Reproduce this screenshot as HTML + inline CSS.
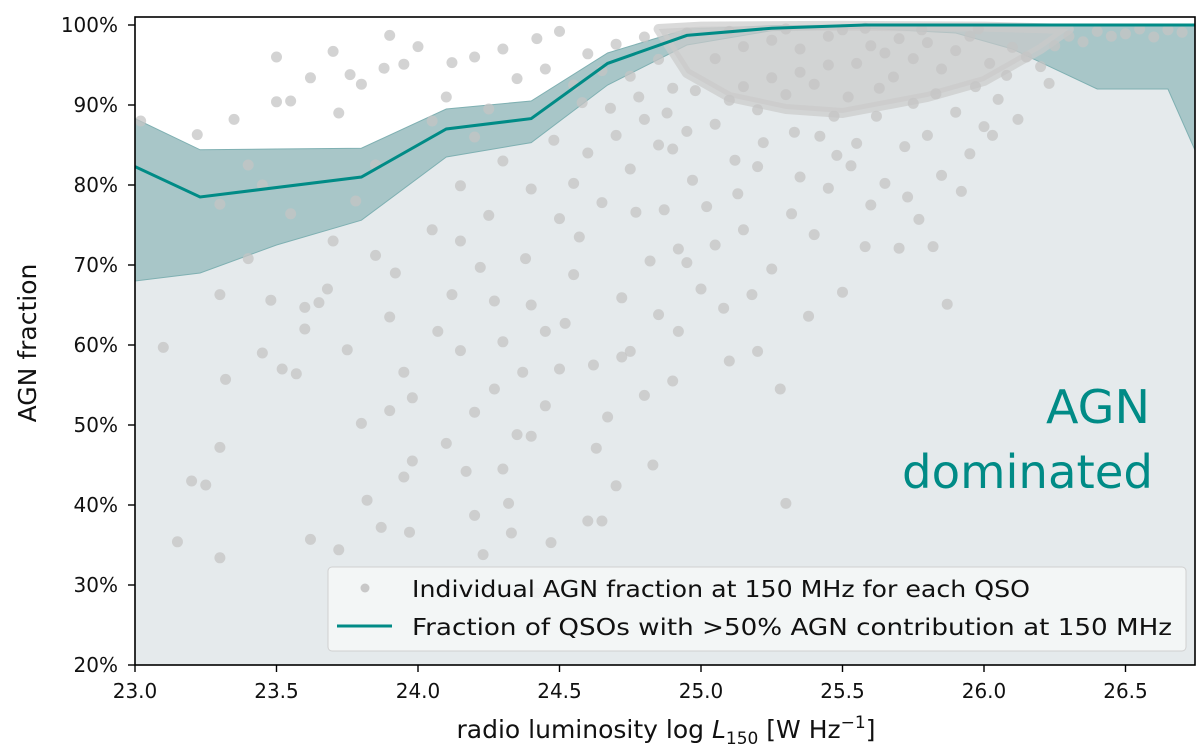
<!DOCTYPE html>
<html><head><meta charset="utf-8">
<style>
body{margin:0;background:#fff;}
svg{display:block;font-family:"DejaVu Sans","Liberation Sans",sans-serif;}
</style></head>
<body>
<svg id="chart" width="1200" height="751" xmlns="http://www.w3.org/2000/svg">
<defs><clipPath id="clip"><rect x="135" y="17" width="1060" height="648"/></clipPath></defs>
<g id="plot" clip-path="url(#clip)"></g>
<rect x="135" y="17" width="1060" height="648" fill="none" stroke="#000" stroke-width="1.6"/>
<g id="axes"></g>
<text x="1150" y="423" font-size="46" fill="#008b86" text-anchor="end" textLength="104" lengthAdjust="spacingAndGlyphs">AGN</text>
<text x="1153" y="488" font-size="46" fill="#008b86" text-anchor="end" textLength="251" lengthAdjust="spacingAndGlyphs">dominated</text>
<g>
<rect x="328" y="567" width="858" height="84" rx="4" fill="#f6f8f8" fill-opacity="0.85" stroke="#d0d0d0"/>
<circle cx="365" cy="588" r="4.5" fill="#c8c8c8"/>
<text x="412" y="597" font-size="23" fill="#111" textLength="618" lengthAdjust="spacingAndGlyphs">Individual AGN fraction at 150 MHz for each QSO</text>
<line x1="337" y1="626" x2="392" y2="626" stroke="#008b86" stroke-width="3"/>
<text x="412" y="635" font-size="23" fill="#111" textLength="760" lengthAdjust="spacingAndGlyphs">Fraction of QSOs with &gt;50% AGN contribution at 150 MHz</text>
</g>
<text x="666" y="738" font-size="25" text-anchor="middle" fill="#111">radio luminosity log <tspan font-style="italic">L</tspan><tspan font-size="17" dy="6">150</tspan><tspan dy="-6"> [W Hz</tspan><tspan font-size="17" dy="-10">−1</tspan><tspan dy="10">]</tspan></text>
<text transform="translate(36,343) rotate(-90)" font-size="25" text-anchor="middle" fill="#111">AGN fraction</text>
</svg>
<script>
const xTicks=[23.0,23.5,24.0,24.5,25.0,25.5,26.0,26.5];
const xTickLabels=["23.0","23.5","24.0","24.5","25.0","25.5","26.0","26.5"];
const yTicks=[20,30,40,50,60,70,80,90,100];
const yTickLabels=["20%","30%","40%","50%","60%","70%","80%","90%","100%"];
const lineX=[23.0,23.23,23.8,24.1,24.4,24.67,24.95,25.25,25.58,26.1,26.5,26.75];
const lineY=[82.3,78.5,81.0,87.0,88.3,95.2,98.7,99.6,100,100,100,100];
const bandX=[23.0,23.23,23.5,23.8,24.1,24.4,24.67,24.95,25.25,25.58,25.9,26.1,26.4,26.65,26.75];
const bandHi=[88.3,84.4,84.5,84.6,89.5,90.5,96.5,99.5,99.9,100,100,100,100,100,100];
const bandLo=[68.0,69.0,72.5,75.6,83.5,85.3,92.5,97.5,99.3,99.6,99.0,97.0,92.0,92.0,84.0];
const denseX=[24.85,25.0,25.5,26.0,26.3,26.2,26.0,25.8,25.5,25.3,25.1,24.95];
const denseY=[99.5,99.8,99.9,99.8,99.5,97,93,91,89,89.5,91,94];
const ptX=[23.02,23.1,23.15,23.2,23.22,23.25,23.3,23.3,23.32,23.3,23.35,23.4,23.45,23.48,23.5,23.52,23.55,23.57,23.6,23.62,23.65,23.68,23.7,23.72,23.72,23.75,23.76,23.78,23.8,23.82,23.85,23.87,23.9,23.92,23.95,23.95,23.97,23.98,23.5,23.62,23.8,23.88,23.9,23.95,24.0,23.85,23.55,23.3,23.45,23.4,23.7,23.9,23.98,23.6,
24.05,24.07,24.1,24.12,24.15,24.15,24.17,24.2,24.22,24.23,24.25,24.27,24.3,24.32,24.33,24.35,24.37,24.4,24.42,24.45,24.47,24.5,24.12,24.2,24.3,24.42,24.1,24.25,24.35,24.45,24.3,24.4,24.05,24.2,24.48,24.38,24.27,24.15,24.45,24.2,24.3,24.4,24.5,
24.52,24.55,24.57,24.6,24.62,24.65,24.67,24.7,24.72,24.75,24.77,24.8,24.82,24.85,24.87,24.9,24.92,24.95,24.97,25.0,24.55,24.6,24.65,24.7,24.75,24.8,24.85,24.9,24.95,24.55,24.6,24.65,24.7,24.75,24.8,24.85,24.9,24.95,24.5,24.58,24.68,24.78,24.88,24.98,24.63,24.83,24.72,24.92,
25.02,25.05,25.08,25.1,25.12,25.15,25.18,25.2,25.22,25.25,25.28,25.3,25.32,25.35,25.38,25.4,25.42,25.45,25.5,25.47,25.05,25.1,25.15,25.2,25.25,25.3,25.35,25.4,25.45,25.05,25.15,25.25,25.35,25.45,25.1,25.3,25.5,25.2,25.33,25.13,25.48,
25.52,25.55,25.58,25.6,25.62,25.65,25.68,25.7,25.72,25.75,25.77,25.8,25.82,25.85,25.87,25.9,25.92,25.95,25.97,26.0,25.55,25.6,25.65,25.7,25.75,25.8,25.85,25.9,25.95,25.58,25.78,25.98,25.63,25.83,25.53,25.73,
26.02,26.05,26.08,26.1,26.12,26.15,26.2,26.25,26.3,26.35,26.4,26.45,26.5,26.55,26.6,26.65,26.7,26.23,26.03];
const ptY=[88,59.7,35.4,43,86.3,42.5,33.4,47.2,55.7,66.3,88.2,82.5,59,65.6,90.4,57,90.5,56.4,64.7,35.7,65.3,67,96.7,34.4,89,59.4,93.8,78,50.2,40.6,71.2,37.2,51.8,69,56.6,43.5,36.6,45.5,96,93.4,92.6,94.6,98.7,95.1,97.3,82.5,76.4,77.6,80,70.8,73,63.5,53.4,62,
74.4,61.7,47.7,66.3,73,79.9,44.2,51.6,69.7,33.8,76.2,54.5,60.4,40.2,36.5,48.8,56.6,65,29,61.7,35.3,75.8,95.3,96,97,98.3,91,89.5,93.3,94.5,83,79.5,88,86,85.6,70.8,65.5,59.3,52.4,38.7,44.5,48.6,57,
62.7,68.8,73.5,38,57.5,38,51,42.4,65.9,59.2,76.6,53.7,70.5,63.8,76.9,55.5,72,70.3,80.6,67,80.2,84,77.8,86.2,82,88.2,85,84.5,86.7,92.5,96.4,94.3,97.6,93.6,98.5,95.7,92.1,99,99.2,90.3,89.6,91,89,91.8,47.1,45,58.5,61.7,
77.3,72.5,64.6,58,83.1,74.4,66.3,59.2,85.3,69.5,54.5,40.2,76.4,81,63.6,73.8,86.1,79.6,66.6,88.6,87.6,90.6,92.3,89.4,93.4,91.3,94.1,92.6,95,95.8,97.3,98.1,97,98.6,99.2,99.5,99.4,82.3,86.6,78.9,83.7,
91,85.2,72.3,77.5,88.6,80.2,93.5,72.1,84.8,90.2,75.7,86.2,72.3,81.2,65.1,89.1,79.2,83.9,92.3,87.3,95.2,97.4,96.5,98.3,95.8,97.8,94.5,96.8,98.6,99.6,99.4,99.5,92.1,91.4,82.4,78.5,
95.2,90.7,93.7,97.2,88.2,96,94.8,97.4,98.6,97.9,99.2,98.6,98.9,99.5,98.5,99.4,99.1,92.7,86.2];

const X0=23.0,PX0=135,PXU=283;
const sx=v=>PX0+(v-X0)*PXU;
const sy=v=>665-(v-20)*8;
const NS='http://www.w3.org/2000/svg';
function mk(tag,attrs,parent){const e=document.createElementNS(NS,tag);for(const k in attrs)e.setAttribute(k,attrs[k]);parent.appendChild(e);return e;}
const plot=document.getElementById('plot'),axes=document.getElementById('axes');

let d='M'+sx(bandX[0])+','+sy(20);
bandX.forEach((x,i)=>d+=' L'+sx(x)+','+sy(bandLo[i]));
d+=' L'+sx(bandX[bandX.length-1])+','+sy(20)+'Z';
const reg=mk('path',{d:d,fill:'#e5eaec'},plot);



let b='';
bandX.forEach((x,i)=>b+=(i?' L':'M')+sx(x)+','+sy(bandHi[i]));
for(let i=bandX.length-1;i>=0;i--)b+=' L'+sx(bandX[i])+','+sy(bandLo[i]);
b+='Z';
const band=mk('path',{d:b,fill:'#a8c6c8',stroke:'#7fb0b2','stroke-width':1},plot);



let dc='';
denseX.forEach((x,i)=>dc+=(i?' L':'M')+sx(x)+','+sy(denseY[i]));
const dense=mk('path',{d:dc+'Z',fill:'#cbcbcb','fill-opacity':0.7,stroke:'#cbcbcb','stroke-opacity':0.7,'stroke-width':10,'stroke-linejoin':'round'},plot);



ptX.forEach((x,i)=>{
  const c=mk('circle',{cx:sx(x),cy:sy(ptY[i]),r:5.5,fill:'#c4c4c4','fill-opacity':0.75},plot);
  
  
});

let l='';
lineX.forEach((x,i)=>l+=(i?' L':'M')+sx(x)+','+sy(lineY[i]));
const line=mk('path',{d:l,fill:'none',stroke:'#008b86','stroke-width':3},plot);



xTicks.forEach((t,i)=>{
  const tk=mk('line',{x1:sx(t),x2:sx(t),y1:665,y2:672,stroke:'#000','stroke-width':1.4},axes);
  
  
  const tx=mk('text',{x:sx(t),y:698,'font-size':20,'text-anchor':'middle',fill:'#111'},axes);
  tx.textContent=xTickLabels[i];
  
  
});
yTicks.forEach((t,i)=>{
  const tk=mk('line',{x1:128,x2:135,y1:sy(t),y2:sy(t),stroke:'#000','stroke-width':1.4},axes);
  
  
  const tx=mk('text',{x:118,y:sy(t)+7,'font-size':20,'text-anchor':'end',fill:'#111'},axes);
  tx.textContent=yTickLabels[i];
  
  
});
</script>
</body></html>
